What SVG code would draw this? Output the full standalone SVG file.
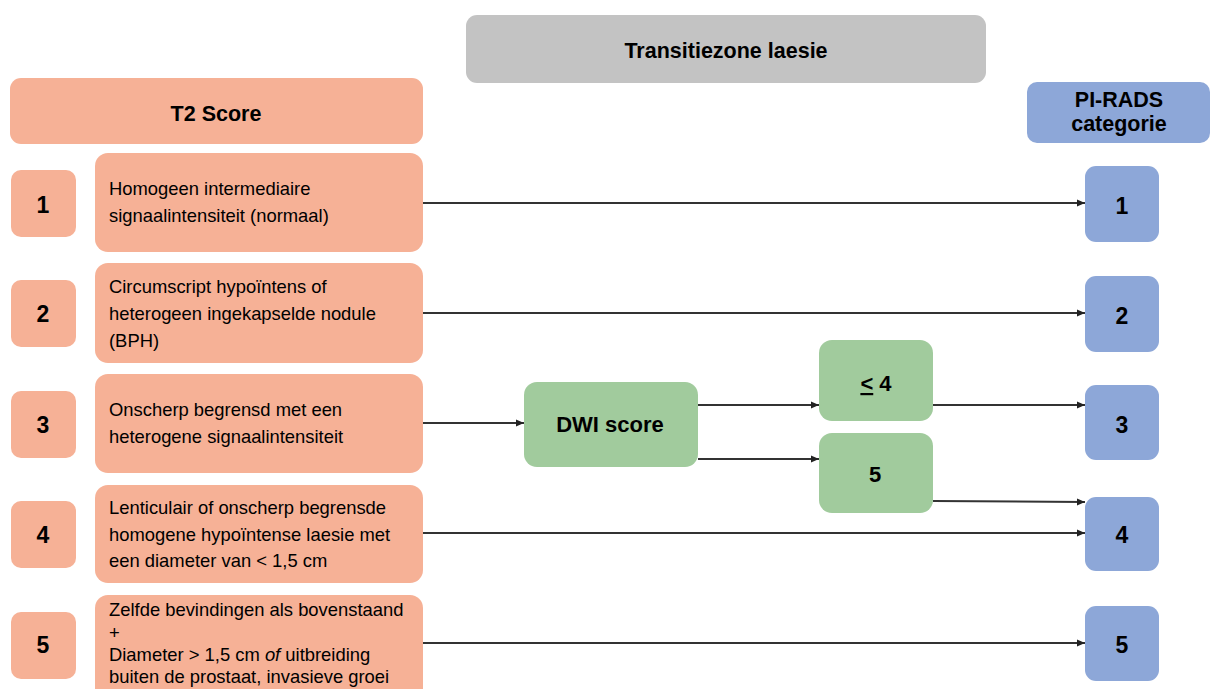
<svg xmlns="http://www.w3.org/2000/svg" width="1211" height="689" viewBox="0 0 1211 689">
<defs>
<marker id="ah" markerUnits="userSpaceOnUse" markerWidth="9" markerHeight="8" refX="8" refY="4" orient="auto">
<path d="M0,0.5 L8,4 L0,7.5 z" fill="#222"/>
</marker>
<style>
.sal{fill:#F6B196}
.gry{fill:#C3C3C3}
.grn{fill:#A1CB9D}
.blu{fill:#8DA7D8}
.hd{font-family:"Liberation Sans",Arial,sans-serif;font-weight:bold;font-size:21.5px;fill:#000;text-anchor:middle}
.num{font-family:"Liberation Sans",Arial,sans-serif;font-weight:bold;font-size:23px;fill:#000;text-anchor:middle}
.bd{font-family:"Liberation Sans",Arial,sans-serif;font-size:18.4px;fill:#000}
.cn{stroke:#333;stroke-width:2;fill:none;marker-end:url(#ah)}
</style>
</defs>
<rect width="1211" height="689" fill="#FFFFFF"/>

<g id="header-zone">
<rect class="gry" x="466" y="15" width="520" height="68" rx="11"/>
<text class="hd" x="726" y="58">Transitiezone laesie</text>
</g>
<g id="header-t2">
<rect class="sal" x="10" y="78" width="413" height="66" rx="11"/>
<text class="hd" x="216" y="121">T2 Score</text>
</g>
<g id="header-pirads">
<rect class="blu" x="1027" y="82" width="183" height="61" rx="10"/>
<text class="hd" x="1119" y="107">PI-RADS</text>
<text class="hd" x="1119" y="131">categorie</text>
</g>

<g id="t2-1">
<rect class="sal" x="11" y="170" width="65" height="67" rx="10"/>
<text class="num" x="43" y="213">1</text>
</g>
<g id="t2-2">
<rect class="sal" x="11" y="280" width="65" height="67" rx="10"/>
<text class="num" x="43" y="322">2</text>
</g>
<g id="t2-3">
<rect class="sal" x="11" y="391" width="65" height="67" rx="10"/>
<text class="num" x="43" y="433">3</text>
</g>
<g id="t2-4">
<rect class="sal" x="11" y="501" width="65" height="67" rx="10"/>
<text class="num" x="43" y="543">4</text>
</g>
<g id="t2-5">
<rect class="sal" x="11" y="612" width="65" height="67" rx="10"/>
<text class="num" x="43" y="653">5</text>
</g>

<g id="desc-1">
<rect class="sal" x="95" y="153" width="328" height="99" rx="13"/>
<text class="bd" x="109" y="195">Homogeen intermediaire</text>
<text class="bd" x="109" y="222">signaalintensiteit (normaal)</text>
</g>
<g id="desc-2">
<rect class="sal" x="95" y="263" width="328" height="100" rx="13"/>
<text class="bd" x="109" y="293">Circumscript hypoïntens of</text>
<text class="bd" x="109" y="320">heterogeen ingekapselde nodule</text>
<text class="bd" x="109" y="347">(BPH)</text>
</g>
<g id="desc-3">
<rect class="sal" x="95" y="374" width="328" height="99" rx="13"/>
<text class="bd" x="109" y="416">Onscherp begrensd met een</text>
<text class="bd" x="109" y="443">heterogene signaalintensiteit</text>
</g>
<g id="desc-4">
<rect class="sal" x="95" y="485" width="328" height="98" rx="13"/>
<text class="bd" x="109" y="514">Lenticulair of onscherp begrensde</text>
<text class="bd" x="109" y="541">homogene hypoïntense laesie met</text>
<text class="bd" x="109" y="567">een diameter van &lt; 1,5 cm</text>
</g>
<g id="desc-5">
<rect class="sal" x="95" y="595" width="328" height="110" rx="13"/>
<text class="bd" x="109" y="616">Zelfde bevindingen als bovenstaand</text>
<text class="bd" x="109" y="639">+</text>
<text class="bd" x="109" y="661">Diameter &gt; 1,5 cm <tspan font-style="italic">of</tspan> uitbreiding</text>
<text class="bd" x="109" y="683">buiten de prostaat, invasieve groei</text>
</g>

<g id="dwi">
<rect class="grn" x="524" y="382" width="174" height="85" rx="13"/>
<text class="num" x="610" y="432" style="font-size:22px">DWI score</text>
</g>
<g id="dwi-le4">
<rect class="grn" x="819" y="340" width="114" height="81" rx="13"/>
<text class="num" x="876" y="391" style="font-size:22px"><tspan text-decoration="underline">&lt;</tspan> 4</text>
</g>
<g id="dwi-5">
<rect class="grn" x="819" y="433" width="114" height="80" rx="13"/>
<text class="num" x="875" y="482" style="font-size:22px">5</text>
</g>

<g id="pi-1">
<rect class="blu" x="1085" y="166" width="74" height="76" rx="11"/>
<text class="num" x="1122" y="214">1</text>
</g>
<g id="pi-2">
<rect class="blu" x="1085" y="276" width="74" height="76" rx="11"/>
<text class="num" x="1122" y="324">2</text>
</g>
<g id="pi-3">
<rect class="blu" x="1085" y="385" width="74" height="75" rx="11"/>
<text class="num" x="1122" y="433">3</text>
</g>
<g id="pi-4">
<rect class="blu" x="1085" y="497" width="74" height="74" rx="11"/>
<text class="num" x="1122" y="543">4</text>
</g>
<g id="pi-5">
<rect class="blu" x="1085" y="606" width="74" height="75" rx="11"/>
<text class="num" x="1122" y="653">5</text>
</g>

<g id="connectors">
<line class="cn" x1="423" y1="203" x2="1085" y2="203"/>
<line class="cn" x1="423" y1="313" x2="1085" y2="313"/>
<line class="cn" x1="423" y1="423" x2="524" y2="423"/>
<line class="cn" x1="698" y1="405" x2="819" y2="405"/>
<line class="cn" x1="698" y1="459" x2="819" y2="459"/>
<line class="cn" x1="933" y1="405" x2="1085" y2="405"/>
<line class="cn" x1="933" y1="501" x2="1085" y2="502"/>
<line class="cn" x1="423" y1="533" x2="1085" y2="533"/>
<line class="cn" x1="423" y1="643" x2="1085" y2="643"/>
</g>
</svg>
